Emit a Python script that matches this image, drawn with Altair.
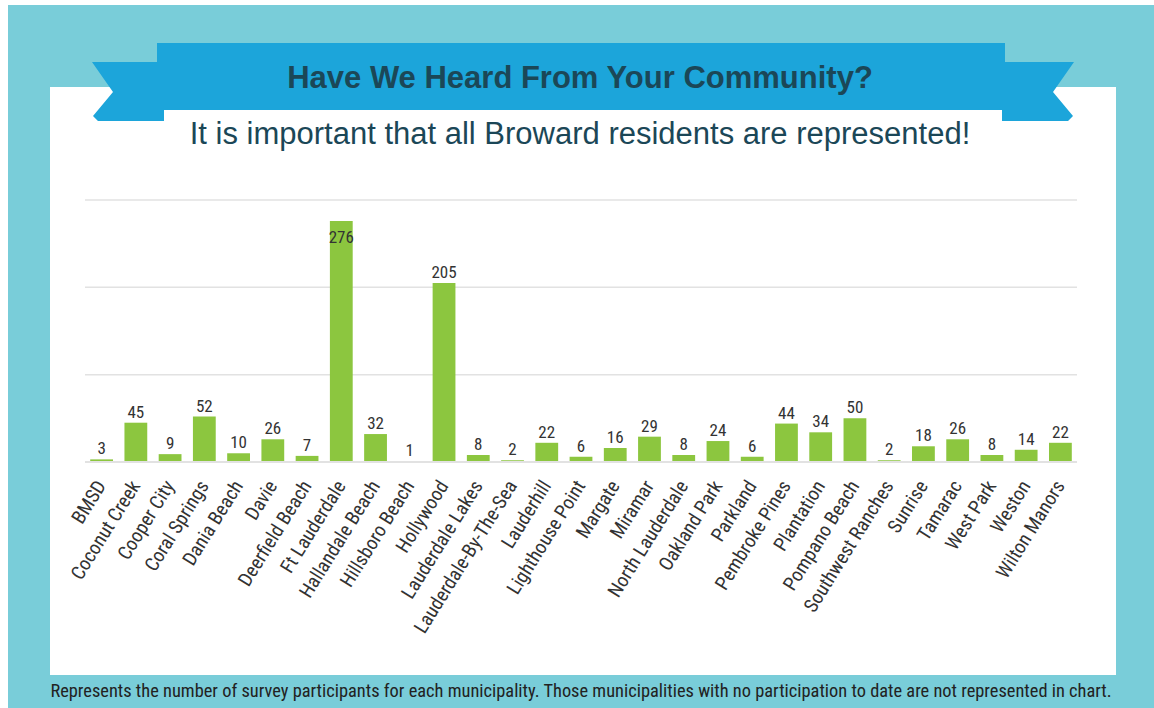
import altair as alt
import pandas as pd

municipalities = ["BMSD", "Coconut Creek", "Cooper City", "Coral Springs", "Dania Beach", "Davie",
                  "Deerfield Beach", "Ft Lauderdale", "Hallandale Beach", "Hillsboro Beach", "Hollywood",
                  "Lauderdale Lakes", "Lauderdale-By-The-Sea", "Lauderhill", "Lighthouse Point", "Margate",
                  "Miramar", "North Lauderdale", "Oakland Park", "Parkland", "Pembroke Pines", "Plantation",
                  "Pompano Beach", "Southwest Ranches", "Sunrise", "Tamarac", "West Park", "Weston",
                  "Wilton Manors"]
participants = [3, 45, 9, 52, 10, 26, 7, 276, 32, 1, 205, 8, 2, 22, 6, 16, 29, 8, 24, 6, 44, 34, 50, 2,
                18, 26, 8, 14, 22]
gridlines = [100, 200, 300]
baseline_value = [0]

title_text = "Have We Heard From Your Community?"
subtitle_text = "It is important that all Broward residents are represented!"
footer_text = ("Represents the number of survey participants for each municipality. "
               "Those municipalities with no participation to date are not represented in chart.")

TEAL = "#79CDD9"
BLUE = "#1CA5DA"
DARK = "#1B4757"
GREEN = "#8CC63F"
COND = "'Roboto Condensed', 'Liberation Sans Narrow', 'DejaVu Sans Condensed', Roboto, sans-serif"

W, H = 992, 262
PL, PT = 85, 200

df = pd.DataFrame({"name": municipalities, "v": participants})
one = pd.DataFrame({"k": [0]})

yscale = alt.Scale(domain=[0, 300], nice=False, zero=True)

LEFT_TAIL = "M -0.9 -0.725 L -0.375 0.025 L -0.875 0.625 L -0.75 0.75 L 0.9 0.75 L 0.9 -0.725 Z"
RIGHT_TAIL = "M 0.9 -0.725 L 0.375 0.025 L 0.875 0.625 L 0.75 0.75 L -0.9 0.75 L -0.9 -0.725 Z"

bg = alt.Chart(one).mark_rect(color=TEAL).encode(
    x=alt.value(8 - PL), x2=alt.value(1154 - PL), y=alt.value(5 - PT), y2=alt.value(708 - PT))
panel = alt.Chart(one).mark_rect(color="white").encode(
    x=alt.value(50 - PL), x2=alt.value(1116 - PL), y=alt.value(87 - PT), y2=alt.value(675 - PT))
ltail = alt.Chart(one).mark_point(shape=LEFT_TAIL, filled=True, color=BLUE, opacity=1, size=6400).encode(
    x=alt.value(128 - PL), y=alt.value(91 - PT))
rtail = alt.Chart(one).mark_point(shape=RIGHT_TAIL, filled=True, color=BLUE, opacity=1, size=6400).encode(
    x=alt.value(1038 - PL), y=alt.value(91 - PT))
band = alt.Chart(one).mark_rect(color=BLUE).encode(
    x=alt.value(157 - PL), x2=alt.value(1005 - PL), y=alt.value(43 - PT), y2=alt.value(110 - PT))
title = alt.Chart(one).mark_text(text=title_text, font="Liberation Sans", fontWeight="bold", fontSize=31,
                                 color=DARK, align="center", baseline="alphabetic").encode(
    x=alt.value(580 - PL), y=alt.value(88 - PT))
subtitle = alt.Chart(one).mark_text(text=subtitle_text, font="Liberation Sans", fontSize=31,
                                    color=DARK, align="center", baseline="alphabetic").encode(
    x=alt.value(580 - PL), y=alt.value(144 - PT))
footer = alt.Chart(one).mark_text(text=footer_text, font=COND, fontSize=18.4,
                                  color="#222222", align="center", baseline="alphabetic").encode(
    x=alt.value(581 - PL), y=alt.value(697 - PT))

grid = alt.Chart(pd.DataFrame({"g": gridlines})).mark_rule(color="#E2E2E2", strokeWidth=1.5).encode(
    y=alt.Y("g:Q", scale=yscale, axis=None), x=alt.value(0), x2=alt.value(W))
base_rule = alt.Chart(pd.DataFrame({"g": baseline_value})).mark_rule(color="#E2E2E2", strokeWidth=2).encode(
    y=alt.Y("g:Q", scale=yscale, axis=None), x=alt.value(0), x2=alt.value(W))

base = alt.Chart(df).encode(
    x=alt.X("name:N", sort=None, title=None,
            scale=alt.Scale(paddingInner=0.334, paddingOuter=0.152),
            axis=alt.Axis(labelAngle=-58, labelFont=COND, labelFontSize=19.5, labelColor="#333333",
                          ticks=False, domain=False, labelPadding=20, labelLimit=0, zindex=1)),
    y=alt.Y("v:Q", scale=yscale, axis=None),
)
bars = base.mark_bar(color=GREEN)
labels = base.transform_filter("datum.v < 250").mark_text(
    baseline="alphabetic", dy=-5, font=COND, fontSize=17, color="#333333").encode(text="v:Q")
big_label = base.transform_filter("datum.v >= 250").mark_text(
    baseline="top", dy=9, font=COND, fontSize=17, color="#333333").encode(text="v:Q")

chart = alt.layer(bg, panel, ltail, rtail, band, title, subtitle, footer, grid, bars, base_rule,
                  labels, big_label).properties(
    width=W, height=H,
    autosize=alt.AutoSizeParams(type="none"),
    padding={"left": PL, "top": PT, "right": 1154 - PL - W, "bottom": 708 - PT - H},
    background="white",
).configure_view(stroke=None)

chart.save("out.html", embed_options={"renderer": "svg", "actions": False})
